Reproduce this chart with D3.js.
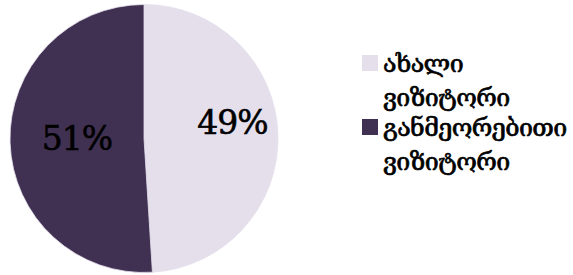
<!DOCTYPE html>
<html>
<head>
<meta charset="utf-8">
<script src="https://cdn.jsdelivr.net/npm/d3@7"></script>
<style>
  body { margin: 0; background: #fff; }
  svg { display: block; }
</style>
</head>
<body>
<script>
// slice labels, values and colours
var categories = ["ახალი ვიზიტორი", "განმეორებითი ვიზიტორი"];
var legendLines = [["ახალი", "ვიზიტორი"], ["განმეორებითი", "ვიზიტორი"]];
var values = [49, 51];
var colors = ["#e5dfec", "#403152"];

const w = 573, h = 275;
const cx = 144, cy = 138.5, r = 134;

const svg = d3.select("body").append("svg")
  .attr("width", w)
  .attr("height", h);

const pie = d3.pie().sort(null).value(d => d)(values);
const arc = d3.arc().innerRadius(0).outerRadius(r);

const g = svg.append("g").attr("transform", "translate(" + cx + "," + cy + ")");

g.selectAll("path")
  .data(pie)
  .enter()
  .append("path")
  .attr("d", arc)
  .attr("fill", (d, i) => colors[i])
  .attr("stroke", "#e5dfec")
  .attr("stroke-width", 0.8);

// percentage labels, placed like excel's "best fit"
const labelRadius = [0.66, 0.5];
const labelLift = [-16.5, 0];
g.selectAll("text.pct")
  .data(pie)
  .enter()
  .append("text")
  .attr("class", "pct")
  .attr("x", (d, i) => d3.arc().innerRadius(r * labelRadius[i]).outerRadius(r * labelRadius[i]).centroid(d)[0])
  .attr("y", (d, i) => labelLift[i])
  .attr("text-anchor", "middle")
  .attr("dy", "0.35em")
  .style("font-family", "'DejaVu Serif', serif")
  .style("font-size", "33px")
  .style("letter-spacing", "-1px")
  .style("fill", "#000")
  .style("stroke", "#000")
  .style("stroke-width", 0.6)
  .text(d => d.data + "%");

// legend
const legend = svg.append("g").attr("transform", "translate(362,55)");
const item = legend.selectAll("g")
  .data(categories)
  .enter()
  .append("g")
  .attr("transform", (d, i) => "translate(0," + (i * 64) + ")");

item.append("rect")
  .attr("width", 16)
  .attr("height", 16)
  .attr("fill", (d, i) => colors[i]);

item.each(function(d, i) {
  d3.select(this).selectAll("text")
    .data(legendLines[i])
    .enter()
    .append("text")
    .attr("class", "leg")
    .attr("x", 21)
    .attr("y", (t, j) => 17 + j * 34)
    .style("font-family", "'DejaVu Serif', serif")
    .style("font-size", "26px")
    .style("letter-spacing", "-0.6px")
    .style("fill", "#000")
    .style("stroke", "#000")
    .style("stroke-width", 0.7)
    .text(t => t);
});

// shrink the legend font so the longest line is as wide as in the original (~184px)
let widest = 0;
svg.selectAll("text.leg").each(function() {
  widest = Math.max(widest, this.getComputedTextLength());
});
const fs = Math.min(26, 26 * 184 / widest);
svg.selectAll("text.leg").style("font-size", fs + "px");
</script>
</body>
</html>
